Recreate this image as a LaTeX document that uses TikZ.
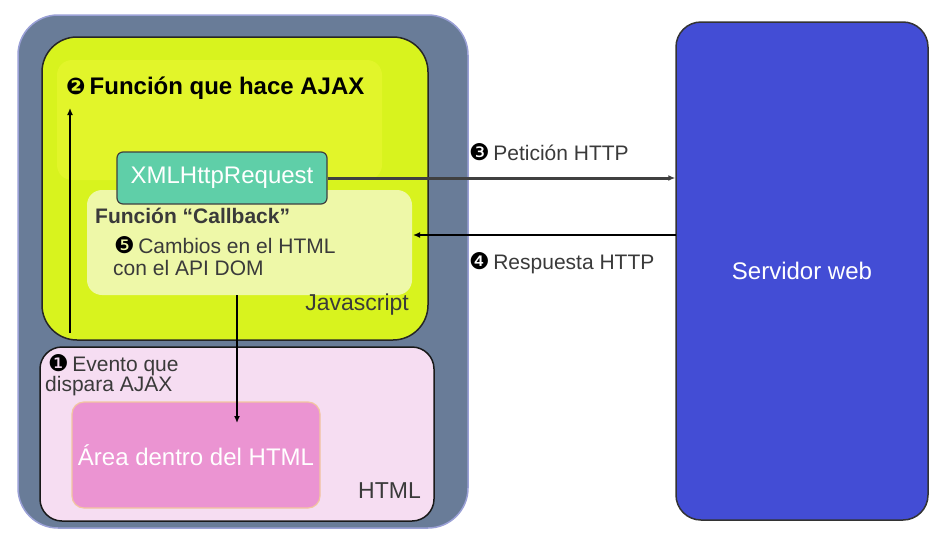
\documentclass[tikz,border=0pt]{standalone}
\usepackage{fontspec}
\setmainfont{Liberation Sans}
\newfontfamily\djv{DejaVu Sans}
\usetikzlibrary{arrows.meta}
\definecolor{outerc}{HTML}{697C98}
\definecolor{outere}{HTML}{9AA0D6}
\definecolor{jsc}{HTML}{D8F31E}
\definecolor{jshi}{HTML}{E2F52A}
\definecolor{cbc}{HTML}{EEF8A8}
\definecolor{xhrc}{HTML}{5FCFA8}
\definecolor{htmlc}{HTML}{F6DDF2}
\definecolor{areac}{HTML}{EB94D2}
\definecolor{areae}{HTML}{F2C6A0}
\definecolor{servc}{HTML}{434DD5}
\definecolor{txtc}{HTML}{3A3A3A}
\tikzset{
  box/.style={rectangle, inner sep=0pt},
  lbl/.style={inner sep=0pt, text=txtc, font=\fontsize{21}{23}\selectfont},
  arr/.style={-{Latex[length=7pt,width=6pt]}, line width=1.6pt},
}
\newcommand{\bul}[1]{{\djv\fontsize{23}{24}\selectfont\color{black}#1}}
\begin{document}
\begin{tikzpicture}[x=1pt,y=-1pt]
\useasboundingbox (0,0) rectangle (937,544);
\fill[white] (0,0) rectangle (937,544);
% containers
\node[box, fill=outerc, draw=outere, line width=1.5pt, rounded corners=40pt,
  minimum width=450pt, minimum height=513pt] (outer) at (243,271.5) {};
\node[box, fill=jsc, draw=black!85, line width=1.5pt, rounded corners=35pt,
  minimum width=386pt, minimum height=303pt] (js) at (235,188.5) {};
\node[box, fill=jshi, rounded corners=15pt,
  minimum width=325pt, minimum height=120pt] (jshl) at (219.5,120) {};
\node[box, fill=cbc, rounded corners=15pt,
  minimum width=325pt, minimum height=105pt] (cb) at (249.5,242.5) {};
\node[box, fill=xhrc, draw=black!75, line width=1.2pt, rounded corners=6pt,
  minimum width=210pt, minimum height=52pt, text=white,
  font=\fontsize{24}{26}\selectfont] (xhr) at (222,178) {XMLHttpRequest};
\node[box, fill=htmlc, draw=black!90, line width=1.5pt, rounded corners=22pt,
  minimum width=394pt, minimum height=174pt] (html) at (237,434) {};
\node[box, fill=areac, draw=areae, line width=1.2pt, rounded corners=12pt,
  minimum width=248pt, minimum height=106pt, text=white,
  font=\fontsize{24}{26}\selectfont] (area) at (196,455) {Área dentro del HTML};
\node[box, fill=servc, draw=black!80, line width=1.5pt, rounded corners=25pt,
  minimum width=252pt, minimum height=498pt, text=white,
  font=\fontsize{24}{26}\selectfont] (server) at (802,271) {Servidor web};
% labels
\node[lbl, anchor=west, text=black, font=\bfseries\fontsize{24}{26}\selectfont] (lajax) at (66,88) {\bul{❷}\,Función que hace AJAX};
\node[lbl, anchor=west, font=\bfseries\fontsize{21}{23}\selectfont] (lcb) at (95,216) {Función ``Callback''};
\node[lbl, anchor=west] (lcamb1) at (114,245) {\bul{❺}\,Cambios en el HTML};
\node[lbl, anchor=west] (lcamb2) at (113,268) {con el API DOM};
\node[lbl, anchor=east, font=\fontsize{23}{25}\selectfont] (ljs) at (409,305) {Javascript};
\node[lbl, anchor=west] (lev1) at (48,365) {\bul{❶}\,Evento que};
\node[lbl, anchor=west] (lev2) at (45,386) {dispara AJAX};
\node[lbl, anchor=east, font=\fontsize{23}{25}\selectfont] (lhtml) at (421,491) {HTML};
\node[lbl, anchor=west] (lpet) at (469,152) {\bul{❸}\,Petición HTTP};
\node[lbl, anchor=west] (lres) at (469,263) {\bul{❹}\,Respuesta HTTP};
% connectors
\coordinate (upS) at (70,333);
\coordinate (upE) at (70,108);
\coordinate (dnS) at (237,295);
\coordinate (dnE) at (237,423);
\coordinate (resS) at (676,235);
\coordinate (resE) at (413,235);
\draw[arr, line width=1.6pt] (upS) -- (upE);
\draw[arr, line width=1.6pt] (dnS) -- (dnE);
\draw[arr, draw=black!75, line width=3pt] (xhr.east) -- (server.west |- xhr.east);
\draw[arr, line width=2pt] (resS) -- (resE);
\end{tikzpicture}
\end{document}
